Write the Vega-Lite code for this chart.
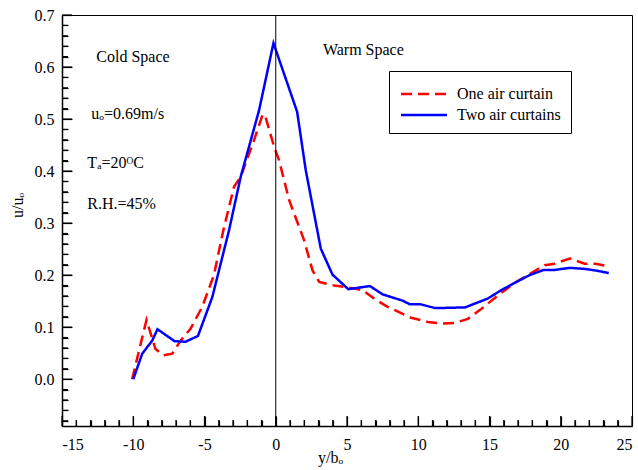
{
  "$schema": "https://vega.github.io/schema/vega-lite/v6.json",
  "width": 570,
  "height": 411,
  "autosize": {"type": "none"},
  "padding": {"left": 62, "top": 15, "right": 6, "bottom": 44},
  "background": "white",
  "config": {
    "view": {"stroke": "black", "strokeWidth": 1},
    "font": "Liberation Serif, Times New Roman, serif",
    "axis": {
      "labelFont": "Liberation Serif, Times New Roman, serif", "titleFont": "Liberation Serif, Times New Roman, serif",
      "labelFontSize": 16, "titleFontSize": 16, "titleFontWeight": "normal",
      "labelColor": "black", "titleColor": "black", "domainColor": "black", "tickColor": "black",
      "grid": false, "domainWidth": 1.5
    },
    "legend": {
      "labelFont": "Liberation Serif, Times New Roman, serif", "labelFontSize": 16, "labelColor": "black"
    }
  },
  "datasets": {
    "xmajor": [{"t": -15}, {"t": -10}, {"t": -5}, {"t": 0}, {"t": 5}, {"t": 10}, {"t": 15}, {"t": 20}, {"t": 25}],
    "xminor": [{"t": -14}, {"t": -13}, {"t": -12}, {"t": -11}, {"t": -9}, {"t": -8}, {"t": -7}, {"t": -6},
      {"t": -4}, {"t": -3}, {"t": -2}, {"t": -1}, {"t": 1}, {"t": 2}, {"t": 3}, {"t": 4},
      {"t": 6}, {"t": 7}, {"t": 8}, {"t": 9}, {"t": 11}, {"t": 12}, {"t": 13}, {"t": 14},
      {"t": 16}, {"t": 17}, {"t": 18}, {"t": 19}, {"t": 21}, {"t": 22}, {"t": 23}, {"t": 24}],
    "ymajor": [{"t": 0}, {"t": 0.1}, {"t": 0.2}, {"t": 0.3}, {"t": 0.4}, {"t": 0.5}, {"t": 0.6}, {"t": 0.7}],
    "yminor": [{"t": -0.08}, {"t": -0.06}, {"t": -0.04}, {"t": -0.02}, {"t": 0.02}, {"t": 0.04}, {"t": 0.06}, {"t": 0.08},
      {"t": 0.12}, {"t": 0.14}, {"t": 0.16}, {"t": 0.18}, {"t": 0.22}, {"t": 0.24}, {"t": 0.26}, {"t": 0.28},
      {"t": 0.32}, {"t": 0.34}, {"t": 0.36}, {"t": 0.38}, {"t": 0.42}, {"t": 0.44}, {"t": 0.46}, {"t": 0.48},
      {"t": 0.52}, {"t": 0.54}, {"t": 0.56}, {"t": 0.58}, {"t": 0.62}, {"t": 0.64}, {"t": 0.66}, {"t": 0.68}]
  },
  "layer": [
    {
      "data": {"name": "xmajor"},
      "mark": {"type": "rule", "color": "black", "strokeWidth": 1.2},
      "encoding": {
        "x": {"field": "t", "type": "quantitative",
          "axis": {"orient": "bottom", "values": [-15, -10, -5, 0, 5, 10, 15, 20, 25], "ticks": true,
            "offset": -10, "tickSize": 10, "tickWidth": 1.2, "labels": false, "domain": false, "title": null}},
        "y": {"datum": -0.09, "type": "quantitative", "axis": null},
        "y2": {"datum": -0.0707}
      }
    },
    {
      "data": {"name": "xminor"},
      "mark": {"type": "rule", "color": "black", "strokeWidth": 1.2},
      "encoding": {
        "x": {"field": "t", "type": "quantitative",
          "axis": {"orient": "bottom", "values": [-14, -13, -12, -11, -9, -8, -7, -6, -4, -3, -2, -1, 1, 2, 3, 4, 6, 7, 8, 9, 11, 12, 13, 14, 16, 17, 18, 19, 21, 22, 23, 24], "ticks": true,
            "offset": -6, "tickSize": 6, "tickWidth": 1.2, "labels": false, "domain": false, "title": null}},
        "y": {"datum": -0.09, "type": "quantitative", "axis": null},
        "y2": {"datum": -0.0785}
      }
    },
    {
      "data": {"name": "ymajor"},
      "mark": {"type": "rule", "color": "black", "strokeWidth": 1.2},
      "encoding": {
        "y": {"field": "t", "type": "quantitative",
          "axis": {"orient": "left", "values": [0, 0.1, 0.2, 0.3, 0.4, 0.5, 0.6, 0.7], "ticks": true,
            "offset": -10, "tickSize": 10, "tickWidth": 1.2, "labels": false, "domain": false, "title": null}},
        "x": {"datum": -15, "type": "quantitative", "axis": null},
        "x2": {"datum": -14.3}
      }
    },
    {
      "data": {"name": "yminor"},
      "mark": {"type": "rule", "color": "black", "strokeWidth": 1.2},
      "encoding": {
        "y": {"field": "t", "type": "quantitative",
          "axis": {"orient": "left", "values": [-0.08, -0.06, -0.04, -0.02, 0.02, 0.04, 0.06, 0.08, 0.12, 0.14, 0.16, 0.18, 0.22, 0.24, 0.26, 0.28, 0.32, 0.34, 0.36, 0.38, 0.42, 0.44, 0.46, 0.48, 0.52, 0.54, 0.56, 0.58, 0.62, 0.64, 0.66, 0.68], "ticks": true,
            "offset": -6, "tickSize": 6, "tickWidth": 1.2, "labels": false, "domain": false, "title": null}},
        "x": {"datum": -15, "type": "quantitative", "axis": null},
        "x2": {"datum": -14.58}
      }
    },
    {
      "data": {"values": [
        {"series": "One air curtain", "x": -10.08, "y": 0.0},
        {"series": "One air curtain", "x": -9.07, "y": 0.114},
        {"series": "One air curtain", "x": -8.44, "y": 0.058},
        {"series": "One air curtain", "x": -7.9, "y": 0.046},
        {"series": "One air curtain", "x": -7.26, "y": 0.049},
        {"series": "One air curtain", "x": -6.68, "y": 0.074},
        {"series": "One air curtain", "x": -5.98, "y": 0.097},
        {"series": "One air curtain", "x": -5.16, "y": 0.139},
        {"series": "One air curtain", "x": -4.34, "y": 0.2},
        {"series": "One air curtain", "x": -3.68, "y": 0.286},
        {"series": "One air curtain", "x": -2.93, "y": 0.37},
        {"series": "One air curtain", "x": -2.46, "y": 0.389},
        {"series": "One air curtain", "x": -1.53, "y": 0.459},
        {"series": "One air curtain", "x": -0.94, "y": 0.507},
        {"series": "One air curtain", "x": -0.77, "y": 0.509},
        {"series": "One air curtain", "x": -0.12, "y": 0.447},
        {"series": "One air curtain", "x": 0.23, "y": 0.421},
        {"series": "One air curtain", "x": 0.94, "y": 0.344},
        {"series": "One air curtain", "x": 1.99, "y": 0.267},
        {"series": "One air curtain", "x": 2.58, "y": 0.209},
        {"series": "One air curtain", "x": 3.05, "y": 0.187},
        {"series": "One air curtain", "x": 4.1, "y": 0.18},
        {"series": "One air curtain", "x": 5.16, "y": 0.176},
        {"series": "One air curtain", "x": 6.1, "y": 0.171},
        {"series": "One air curtain", "x": 6.9, "y": 0.155},
        {"series": "One air curtain", "x": 7.85, "y": 0.139},
        {"series": "One air curtain", "x": 9.5, "y": 0.118},
        {"series": "One air curtain", "x": 10.67, "y": 0.11},
        {"series": "One air curtain", "x": 11.72, "y": 0.107},
        {"series": "One air curtain", "x": 12.54, "y": 0.108},
        {"series": "One air curtain", "x": 13.48, "y": 0.116},
        {"series": "One air curtain", "x": 14.42, "y": 0.135},
        {"series": "One air curtain", "x": 15.59, "y": 0.161},
        {"series": "One air curtain", "x": 16.76, "y": 0.185},
        {"series": "One air curtain", "x": 17.93, "y": 0.204},
        {"series": "One air curtain", "x": 18.87, "y": 0.219},
        {"series": "One air curtain", "x": 19.57, "y": 0.222},
        {"series": "One air curtain", "x": 20.63, "y": 0.232},
        {"series": "One air curtain", "x": 21.68, "y": 0.222},
        {"series": "One air curtain", "x": 22.43, "y": 0.222},
        {"series": "One air curtain", "x": 23.33, "y": 0.217},
        {"series": "Two air curtains", "x": -10.0, "y": 0.0},
        {"series": "Two air curtains", "x": -9.37, "y": 0.049},
        {"series": "Two air curtains", "x": -8.67, "y": 0.074},
        {"series": "Two air curtains", "x": -8.3, "y": 0.096},
        {"series": "Two air curtains", "x": -7.1, "y": 0.073},
        {"series": "Two air curtains", "x": -6.33, "y": 0.072},
        {"series": "Two air curtains", "x": -5.46, "y": 0.083},
        {"series": "Two air curtains", "x": -4.45, "y": 0.158},
        {"series": "Two air curtains", "x": -3.28, "y": 0.286},
        {"series": "Two air curtains", "x": -2.45, "y": 0.39},
        {"series": "Two air curtains", "x": -1.17, "y": 0.517},
        {"series": "Two air curtains", "x": -0.16, "y": 0.646},
        {"series": "Two air curtains", "x": 1.5, "y": 0.514},
        {"series": "Two air curtains", "x": 2.11, "y": 0.401},
        {"series": "Two air curtains", "x": 3.16, "y": 0.251},
        {"series": "Two air curtains", "x": 3.98, "y": 0.201},
        {"series": "Two air curtains", "x": 5.09, "y": 0.173},
        {"series": "Two air curtains", "x": 6.61, "y": 0.179},
        {"series": "Two air curtains", "x": 7.5, "y": 0.163},
        {"series": "Two air curtains", "x": 8.9, "y": 0.151},
        {"series": "Two air curtains", "x": 9.4, "y": 0.144},
        {"series": "Two air curtains", "x": 10.15, "y": 0.144},
        {"series": "Two air curtains", "x": 11.13, "y": 0.137},
        {"series": "Two air curtains", "x": 11.88, "y": 0.137},
        {"series": "Two air curtains", "x": 13.29, "y": 0.138},
        {"series": "Two air curtains", "x": 14.88, "y": 0.155},
        {"series": "Two air curtains", "x": 15.82, "y": 0.171},
        {"series": "Two air curtains", "x": 16.76, "y": 0.185},
        {"series": "Two air curtains", "x": 17.81, "y": 0.2},
        {"series": "Two air curtains", "x": 18.8, "y": 0.21},
        {"series": "Two air curtains", "x": 19.57, "y": 0.21},
        {"series": "Two air curtains", "x": 20.63, "y": 0.214},
        {"series": "Two air curtains", "x": 21.68, "y": 0.212},
        {"series": "Two air curtains", "x": 22.43, "y": 0.209},
        {"series": "Two air curtains", "x": 23.37, "y": 0.204}
      ]},
      "mark": {"type": "line", "strokeWidth": 2.5, "strokeCap": "butt", "clip": true},
      "encoding": {
        "x": {"field": "x", "type": "quantitative",
          "scale": {"domain": [-15, 25], "nice": false, "zero": false},
          "axis": {"orient": "bottom", "values": [-15, -10, -5, 0, 5, 10, 15, 20, 25],
            "ticks": false, "domain": true, "labelPadding": 10, "labelExpr": "datum.value + ''",
            "labelFont": "Liberation Serif, Times New Roman, serif",
            "title": "y/bₒ", "titleX": 268, "titleY": 36, "titleAlign": "center", "titleBaseline": "alphabetic"}},
        "y": {"field": "y", "type": "quantitative",
          "scale": {"domain": [-0.09, 0.7], "nice": false, "zero": false},
          "axis": {"orient": "left", "values": [0, 0.1, 0.2, 0.3, 0.4, 0.5, 0.6, 0.7],
            "ticks": false, "domain": true, "format": ".1f", "labelPadding": 8,
            "labelFont": "Liberation Serif, Times New Roman, serif",
            "title": "u/uₒ", "titleX": -45, "titleY": 190, "titleAlign": "center", "titleBaseline": "middle", "titleAngle": -90}},
        "color": {"field": "series", "type": "nominal",
          "scale": {"domain": ["One air curtain", "Two air curtains"], "range": ["#ff0000", "#0000ff"]},
          "legend": {"orient": "none", "legendX": 327, "legendY": 56, "title": null,
            "strokeColor": "black", "fillColor": "white", "padding": 10,
            "symbolType": "M-2,0H2", "symbolSize": 529, "symbolStrokeWidth": 2.5, "symbolOffset": 12,
            "labelFontSize": 16, "labelColor": "black",
            "labelOffset": 20, "rowPadding": -2}},
        "strokeDash": {"field": "series", "type": "nominal",
          "scale": {"domain": ["One air curtain", "Two air curtains"], "range": [[11, 6], [1, 0]]},
          "legend": {"orient": "none", "legendX": 327, "legendY": 56, "title": null,
            "strokeColor": "black", "fillColor": "white", "padding": 10,
            "symbolType": "M-2,0H2", "symbolSize": 529, "symbolStrokeWidth": 2.5, "symbolOffset": 12,
            "labelFontSize": 16, "labelColor": "black",
            "labelOffset": 20, "rowPadding": -2}}
      }
    },
    {
      "data": {"values": [{"x": 0}]},
      "mark": {"type": "rule", "color": "black", "strokeWidth": 1},
      "encoding": {"x": {"field": "x", "type": "quantitative", "axis": null}}
    },
    {
      "data": {"values": [
        {"x": -12.59, "y": 0.61, "label": "Cold Space"},
        {"x": 3.31, "y": 0.623, "label": "Warm Space"},
        {"x": -12.94, "y": 0.5, "label": "uₒ=0.69m/s"},
        {"x": -13.22, "y": 0.4055, "label": "Tₐ=20ᴼC"},
        {"x": -13.22, "y": 0.3266, "label": "R.H.=45%"}
      ]},
      "mark": {"type": "text", "align": "left", "baseline": "alphabetic", "fontSize": 16, "font": "Liberation Serif, Times New Roman, serif", "color": "black"},
      "encoding": {
        "x": {"field": "x", "type": "quantitative", "axis": null},
        "y": {"field": "y", "type": "quantitative", "axis": null},
        "text": {"field": "label", "type": "nominal"}
      }
    }
  ],
  "resolve": {"axis": {"x": "independent", "y": "independent"}}
}
